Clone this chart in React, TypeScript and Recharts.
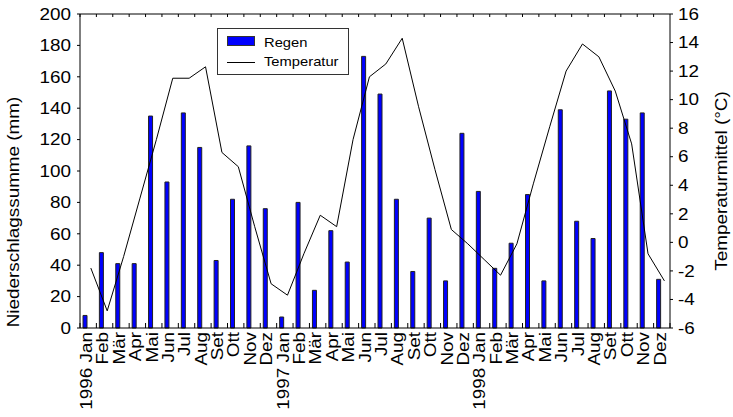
import { Bar, ComposedChart, Legend, Line, ReferenceLine, XAxis, YAxis } from "recharts";

// Monatswerte 1996–1998
const months = [
  "1996 Jan", "Feb", "Mär", "Apr", "Mai", "Jun", "Jul", "Aug", "Set", "Ott", "Nov", "Dez",
  "1997 Jan", "Feb", "Mär", "Apr", "Mai", "Jun", "Jul", "Aug", "Set", "Ott", "Nov", "Dez",
  "1998 Jan", "Feb", "Mär", "Apr", "Mai", "Jun", "Jul", "Aug", "Set", "Ott", "Nov", "Dez",
];

const regen = [
  8, 48, 41, 41, 135, 93, 137, 115, 43, 82, 116, 76,
  7, 80, 24, 62, 42, 173, 149, 82, 36, 70, 30, 124,
  87, 38, 54, 85, 30, 139, 68, 57, 151, 133, 137, 31,
];

const temperatur = [
  -1.8, -4.8, -1.0, 3.1, 7.2, 11.5, 11.5, 12.3, 6.3, 5.3, 1.1, -2.9,
  -3.7, -0.8, 1.9, 1.1, 7.2, 11.6, 12.5, 14.3, 9.5, 5.1, 0.9, -0.1,
  -1.2, -2.3, -0.1, 4.1, 8.1, 12.0, 13.9, 13.0, 10.6, 6.9, -0.8, -2.7,
];

const rainTicks = [0, 20, 40, 60, 80, 100, 120, 140, 160, 180, 200];
const tempTicks = [-6, -4, -2, 0, 2, 4, 6, 8, 10, 12, 14, 16];

const FONT = '"Liberation Sans", Arial, Helvetica, sans-serif';
const STRETCH = 1.18; // the labels run a bit wide
const LEFT = 80;
const RIGHT = 670;
const TOP = 14;
const BOTTOM = 328;
const BAND = (RIGHT - LEFT) / months.length;
const LINE_SHIFT = 0.66; // temperature points sit right of the bars

const data = months.map((m, i) => ({
  m,
  lx: i + LINE_SHIFT,
  regen: regen[i],
  temp: temperatur[i],
}));

// month label plus the small frame ticks on the band borders
function MonthTick({ x, payload, index }: any) {
  const edge = x - BAND / 2;
  const last = index === months.length - 1;
  return (
    <g>
      <g stroke="#000" strokeWidth={1}>
        <line x1={edge} x2={edge} y1={TOP} y2={TOP + 3} />
        <line x1={edge} x2={edge} y1={BOTTOM} y2={BOTTOM - 5} />
        {last && <line x1={edge + BAND} x2={edge + BAND} y1={BOTTOM} y2={BOTTOM - 5} />}
      </g>
      <g transform={`translate(${x + 3.8},332)`}>
        <text
          transform={`rotate(-90) scale(${STRETCH},1)`}
          textAnchor="end"
          fontSize={16}
          fontFamily={FONT}
          fill="#000"
        >
          {payload.value}
        </text>
      </g>
    </g>
  );
}

function ValueTick({ x, y, payload, anchor }: any) {
  return (
    <g transform={`translate(${x},${y})`}>
      <text
        transform={`scale(${STRETCH},1)`}
        textAnchor={anchor}
        dy="0.36em"
        fontSize={16}
        fontFamily={FONT}
        fill="#000"
      >
        {payload.value}
      </text>
    </g>
  );
}

function AxisTitle({ px, py, text }: any) {
  return (
    <text
      transform={`translate(${px},${py}) rotate(-90) scale(${STRETCH},1)`}
      textAnchor="middle"
      fontSize={16}
      fontFamily={FONT}
      fill="#000"
    >
      {text}
    </text>
  );
}

function LegendBox() {
  return (
    <svg width={133} height={48} style={{ display: "block" }}>
      <rect x={0.5} y={0.5} width={131} height={46} fill="#fff" stroke="#333" />
      <rect x={10.5} y={8.5} width={27} height={9} fill="#0000ff" stroke="#333" />
      <line x1={10} x2={38} y1={34.5} y2={34.5} stroke="#000" />
      <text
        transform={`translate(47,19) scale(${STRETCH},1)`}
        fontSize={12.5}
        fontFamily={FONT}
        fill="#000"
      >
        Regen
      </text>
      <text
        transform={`translate(47,38) scale(${STRETCH},1)`}
        fontSize={12.5}
        fontFamily={FONT}
        fill="#000"
      >
        Temperatur
      </text>
    </svg>
  );
}

export default function App() {
  return (
    <div style={{ position: "absolute", left: 0, top: 0, width: 733, height: 417, background: "#fff" }}>
      <ComposedChart
        width={733}
        height={417}
        data={data}
        margin={{ top: TOP, right: 0, bottom: 0, left: 0 }}
        barGap={3}
      >
        <XAxis
          xAxisId="cat"
          dataKey="m"
          type="category"
          height={89}
          interval={0}
          tickLine={false}
          axisLine={{ stroke: "#000" }}
          tick={<MonthTick />}
        />
        <XAxis
          xAxisId="num"
          dataKey="lx"
          type="number"
          domain={[0, months.length]}
          hide
        />
        <YAxis
          yAxisId="l"
          orientation="left"
          width={LEFT}
          domain={[0, 200]}
          ticks={rainTicks}
          interval={0}
          tickSize={3}
          tickMargin={6}
          tickLine={{ stroke: "#000" }}
          axisLine={{ stroke: "#000" }}
          tick={<ValueTick anchor="end" />}
          label={<AxisTitle px={19} py={212} text="Niederschlagssumme (mm)" />}
        />
        <YAxis
          yAxisId="r"
          orientation="right"
          width={733 - RIGHT}
          domain={[-6, 16]}
          ticks={tempTicks}
          interval={0}
          tickSize={3}
          tickMargin={5}
          tickLine={{ stroke: "#000" }}
          axisLine={{ stroke: "#000" }}
          tick={<ValueTick anchor="start" />}
          label={<AxisTitle px={727} py={181} text="Temperaturmittel (°C)" />}
        />
        <ReferenceLine y={200} yAxisId="l" xAxisId="cat" stroke="#000" strokeWidth={1} />
        <Legend
          layout="horizontal"
          verticalAlign="middle"
          align="center"
          content={<LegendBox />}
          wrapperStyle={{ left: 217, top: 28, width: 133, height: 48 }}
        />
        <Bar
          name="Regen"
          dataKey="regen"
          xAxisId="cat"
          yAxisId="l"
          barSize={4}
          fill="#0000ff"
          stroke="#222"
          strokeWidth={1}
          isAnimationActive={false}
        />
        <Bar
          name="pad"
          dataKey="pad"
          xAxisId="cat"
          yAxisId="l"
          barSize={4}
          fill="none"
          legendType="none"
          isAnimationActive={false}
        />
        <Line
          name="Temperatur"
          dataKey="temp"
          xAxisId="num"
          yAxisId="r"
          type="linear"
          stroke="#000"
          strokeWidth={1}
          dot={false}
          activeDot={false}
          isAnimationActive={false}
        />
      </ComposedChart>
    </div>
  );
}
